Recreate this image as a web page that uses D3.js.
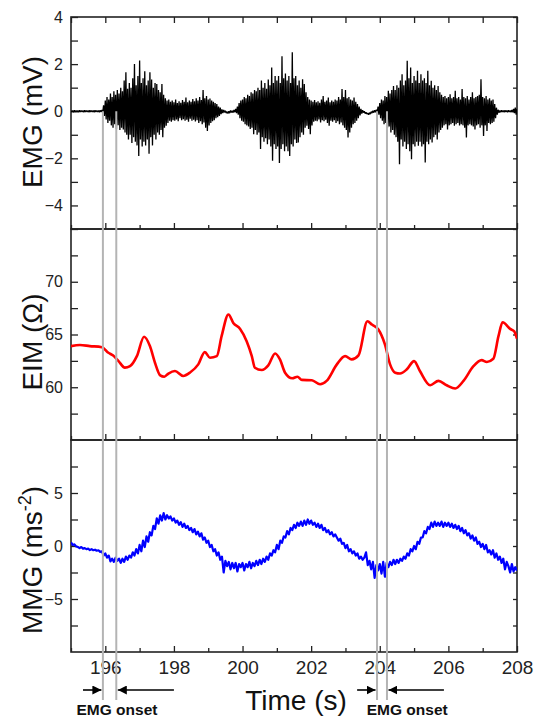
<!DOCTYPE html>
<html>
<head>
<meta charset="utf-8">
<script src="https://cdn.jsdelivr.net/npm/d3@7"></script>
<style>
  body { margin: 0; background: #fff; }
  svg { display: block; font-family: "Liberation Sans", Arial, sans-serif; }
</style>
</head>
<body>
<div id="wrapper"></div>
<script>
// EMG envelope, one high/low pair every 0.05 s from 195 s to 208 s (mV)
const emgStart = 195;
const emgStep = 0.05;
const emgHigh = [
  0.03,0.03,0.04,0.03,0.03,0.04,0.03,0.03,0.04,0.03,0.03,0.04,0.03,0.03,0.04,0.03,0.03,0.04,0.05,0.25,
  0.45,0.6,0.5,0.75,0.6,0.85,0.7,0.9,0.75,1.0,0.85,1.3,1.65,0.95,1.2,1.0,1.4,2.0,1.1,1.5,
  2.15,1.2,1.4,1.7,1.1,1.3,1.65,1.35,1.0,1.2,1.15,0.9,0.8,1.15,0.7,0.55,0.45,0.5,0.4,0.45,
  0.38,0.5,0.35,0.42,0.36,0.48,0.4,0.58,0.38,0.45,0.4,0.52,0.42,0.55,0.45,0.6,0.48,0.9,0.55,0.65,
  0.5,0.54,0.45,0.4,0.35,0.3,0.2,0.15,0.08,0.05,0.02,-0.02,0.0,0.03,0.02,0.05,0.1,0.2,0.35,0.45,
  0.5,0.6,0.55,0.7,0.65,0.8,0.75,0.9,0.85,1.0,0.9,1.3,1.0,1.2,0.95,1.35,1.1,1.86,1.2,1.5,
  1.3,1.5,1.2,2.33,1.4,1.6,1.3,1.5,1.2,2.5,1.4,1.5,1.1,1.3,1.0,1.36,1.15,0.8,0.6,0.5,
  0.45,0.4,0.48,0.38,0.42,0.36,0.5,0.65,0.4,0.45,0.58,0.38,0.45,0.4,0.5,0.45,0.6,0.5,0.94,0.6,
  0.9,0.55,0.6,0.5,0.45,0.58,0.4,0.3,0.2,0.1,0.04,0.0,-0.05,-0.08,-0.06,-0.02,0.02,0.04,0.06,0.2,
  0.35,0.5,0.45,0.65,0.6,0.87,0.75,0.9,1.07,0.9,1.1,1.0,1.3,1.57,1.1,1.3,2.14,1.4,1.86,1.2,
  1.5,1.3,1.72,1.2,1.57,1.3,1.4,1.2,1.72,1.1,1.29,1.0,1.1,0.9,1.07,0.8,0.7,0.6,0.65,0.55,
  0.6,0.72,0.55,0.6,0.87,0.55,0.6,0.5,0.94,0.6,0.55,0.65,0.5,0.6,0.8,0.55,0.6,0.65,0.7,1.36,
  0.6,0.55,0.65,0.5,0.55,0.45,0.5,0.3,0.15,0.06,0.03,0.04,0.03,0.04,0.03,0.04,0.03,0.05,0.1,0.15,
  0.1
];
const emgLow = [
  -0.03,-0.04,-0.03,-0.03,-0.04,-0.03,-0.03,-0.04,-0.03,-0.03,-0.04,-0.03,-0.03,-0.04,-0.03,-0.03,-0.04,-0.03,-0.05,-0.2,
  -0.35,-0.5,-0.4,-0.6,-0.7,-0.55,-0.75,-0.6,-0.8,-0.7,-0.78,-0.9,-1.0,-1.2,-1.0,-1.35,-1.1,-1.3,-1.45,-1.9,
  -1.2,-1.5,-1.3,-1.45,-1.2,-1.8,-1.1,-1.45,-1.0,-1.2,-0.9,-1.0,-0.8,-1.1,-0.7,-0.62,-0.5,-0.4,-0.45,-0.38,
  -0.4,-0.35,-0.42,-0.3,-0.38,-0.34,-0.4,-0.36,-0.45,-0.32,-0.4,-0.36,-0.44,-0.38,-0.5,-0.42,-0.55,-0.48,-0.7,-0.84,
  -0.6,-0.5,-0.42,-0.38,-0.3,-0.25,-0.2,-0.12,-0.08,-0.05,-0.08,-0.1,-0.08,-0.05,-0.06,-0.04,-0.08,-0.15,-0.3,-0.4,
  -0.45,-0.55,-0.6,-0.65,-0.75,-0.7,-0.98,-0.8,-1.0,-0.9,-1.6,-1.1,-1.3,-1.15,-1.4,-1.2,-1.5,-2.1,-1.4,-1.6,
  -1.5,-2.2,-1.6,-1.4,-1.7,-1.5,-1.7,-1.9,-1.4,-1.5,-1.2,-1.35,-1.33,-1.1,-0.9,-1.0,-0.7,-0.62,-0.75,-0.98,
  -0.6,-0.45,-0.4,-0.42,-0.35,-0.48,-0.38,-0.42,-0.36,-0.5,-0.62,-0.4,-0.45,-0.38,-0.5,-0.42,-0.55,-0.48,-0.6,-0.7,
  -0.8,-1.12,-0.9,-0.7,-0.55,-0.5,-0.4,-0.3,-0.18,-0.1,-0.06,-0.1,-0.12,-0.15,-0.12,-0.08,-0.06,-0.04,-0.05,-0.15,
  -0.3,-0.4,-0.55,-0.5,-0.7,-0.65,-0.9,-0.8,-1.0,-1.1,-1.3,-2.25,-1.2,-1.5,-1.3,-1.6,-1.4,-1.7,-2.04,-1.4,
  -1.5,-1.3,-1.47,-1.3,-1.5,-1.4,-2.18,-1.3,-1.4,-1.2,-1.33,-1.1,-1.0,-1.2,-0.9,-0.8,-0.7,-0.6,-0.55,-0.77,
  -0.6,-0.55,-0.5,-0.62,-0.55,-0.5,-0.6,-0.55,-0.6,-0.7,-1.12,-0.6,-0.55,-0.6,-0.65,-0.77,-0.6,-0.55,-0.7,-0.6,
  -1.05,-0.6,-0.84,-0.5,-0.55,-0.5,-0.45,-0.3,-0.15,-0.06,-0.04,-0.03,-0.04,-0.03,-0.04,-0.03,-0.04,-0.04,-0.08,-0.15,
  -0.1
];

// EIM (ohm), read at irregular times
const eimTime = [195.0,195.26,195.55,195.9,196.09,196.23,196.38,196.57,196.72,196.92,197.13,197.3,197.45,197.6,197.72,197.84,198.03,198.27,198.47,198.71,198.9,199.05,199.25,199.39,199.59,199.73,199.93,200.12,200.27,200.36,200.56,200.75,200.95,201.09,201.24,201.45,201.6,201.73,202.02,202.26,202.45,202.75,202.99,203.18,203.38,203.64,203.77,203.96,204.15,204.3,204.45,204.59,204.79,205.0,205.17,205.47,205.71,205.95,206.2,206.44,206.73,206.97,207.12,207.31,207.46,207.58,207.8,207.92,208.0];
const eimValue = [63.9,64.0,63.9,63.8,63.27,63.0,62.5,61.86,62.0,62.95,64.78,63.9,62.3,61.13,61.0,61.3,61.54,61.07,61.4,62.17,63.33,62.8,62.95,64.84,66.9,66.1,65.53,64.37,62.95,61.85,61.63,62.07,63.2,62.64,61.38,60.85,61.0,60.7,60.66,60.28,60.6,62.17,62.95,62.64,63.02,66.26,65.94,65.47,64.06,62.17,61.38,61.3,61.7,62.48,61.54,60.19,60.6,60.19,59.88,60.6,62.0,62.57,62.4,62.7,64.84,66.16,65.53,65.3,64.6];

// MMG (m/s^2), one value every 0.05 s from 195 s to 208 s
const mmgStart = 195;
const mmgStep = 0.05;
const mmgValue = [
  0.35,0.1,0.15,-0.05,-0.1, -0.2,-0.1,-0.25,-0.2,-0.3, -0.25,-0.38,-0.3,-0.4,-0.35, -0.45,-0.4,-0.55,-0.5,-0.9,
  -0.7,-1.1,-0.9,-1.45,-1.2, -1.5,-1.1,-1.4,-1.2,-1.6, -1.2,-1.5,-1.0,-1.3,-0.9, -1.1,-0.6,-0.9,-0.3,-0.7,
  0.1,-0.5,0.5,-0.1,0.9, 0.4,1.3,1.0,1.9,1.6, 2.6,2.1,2.9,2.4,3.1, 2.5,2.9,2.6,2.8,2.4,
  2.6,2.2,2.4,2.0,2.25, 1.8,2.1,1.7,1.9,1.5, 1.7,1.3,1.6,1.1,1.35, 0.9,1.2,0.6,0.8,0.3,
  0.5,-0.1,0.1,-0.5,-0.3, -0.9,-0.6,-1.3,-1.0,-2.5, -1.4,-1.9,-1.5,-2.2,-1.6, -2.1,-1.6,-2.4,-1.7,-2.0,
  -1.6,-2.3,-1.7,-2.0,-1.5, -2.1,-1.6,-1.9,-1.4,-1.8, -1.3,-1.7,-1.2,-1.5,-1.0, -1.3,-0.7,-0.9,-0.4,-0.6,
  0.1,-0.3,0.5,0.3,0.9, 0.8,1.4,1.1,1.7,1.5, 2.0,1.7,2.2,1.9,2.3, 1.9,2.4,2.0,2.5,2.1,
  2.4,2.0,2.2,1.8,2.1, 1.7,2.0,1.5,1.7,1.3, 1.5,1.1,1.3,0.9,1.1, 0.8,0.5,0.7,0.2,0.3,
  -0.2,0.1,-0.5,-0.3,-0.7, -0.5,-0.9,-0.7,-1.2,-1.0, -1.3,-1.1,-0.6,-1.8,-1.4, -2.2,-1.5,-3.0,-1.8,-2.3,
  -1.7,-2.6,-1.5,-2.9,-1.6, -2.0,-1.5,-1.8,-1.3,-1.7, -1.3,-1.6,-1.2,-1.4,-1.0, -1.2,-0.7,-0.9,-0.3,-0.5,
  0.0,-0.3,0.4,0.2,0.8, 0.8,1.4,1.2,1.8,1.6, 2.2,1.8,2.3,1.9,2.2, 1.9,2.3,1.8,2.2,1.9,
  2.2,1.8,2.1,1.7,2.0, 1.6,1.9,1.4,1.7,1.2, 1.5,1.0,1.2,0.7,1.0, 0.5,0.8,0.2,0.4,-0.1,
  0.2,-0.3,0.1,-0.6,-0.4, -0.8,-0.4,-1.1,-0.7,-1.3, -1.0,-1.6,-1.2,-2.2,-1.5, -1.9,-2.5,-1.7,-2.4,-2.0,
  -2.3
];

// EMG onset markers (s) and annotation positions
const onsetPairs = [[195.93, 196.32], [203.92, 204.21]];
const arrowTails = [[195.35, 198.0], [203.34, 205.87]];
const onsetLabelTime = [196.34, 204.8];

const xMajorTicks = [196, 198, 200, 202, 204, 206, 208];
const xMinorTicks = [195, 197, 199, 201, 203, 205, 207];

function drawChart() {
  const dimensions = {
    width: 534,
    height: 720,
    left: 71,
    right: 517,
  };

  const svg = d3.select('#wrapper')
    .append('svg')
    .attr('width', dimensions.width)
    .attr('height', dimensions.height);

  const xScale = d3.scaleLinear()
    .domain([195, 208])
    .range([dimensions.left, dimensions.right]);

  const panels = [
    { top: 17, bottom: 229, domain: [-5, 4], major: [-4, -2, 0, 2, 4], minor: [-5, -3, -1, 1, 3] },
    { top: 229, bottom: 440, domain: [55, 75], major: [60, 65, 70], minor: [57.5, 62.5, 67.5, 72.5] },
    { top: 440, bottom: 652, domain: [-10, 10], major: [-5, 0, 5], minor: [-7.5, -2.5, 2.5, 7.5] },
  ];
  panels.forEach(p => {
    p.yScale = d3.scaleLinear().domain(p.domain).range([p.bottom, p.top]);
  });

  // clip per panel
  const defs = svg.append('defs');
  panels.forEach((p, i) => {
    defs.append('clipPath').attr('id', `clip${i}`)
      .append('rect')
      .attr('x', dimensions.left).attr('y', p.top)
      .attr('width', dimensions.right - dimensions.left).attr('height', p.bottom - p.top);
  });

  // axes
  const axisColor = '#222';
  panels.forEach((p, i) => {
    const g = svg.append('g');
    const addAxis = (gen, transform) => {
      const a = g.append('g').attr('transform', transform).call(gen);
      a.select('.domain').remove();
      a.selectAll('line').attr('stroke', axisColor).attr('stroke-width', 1.3);
      a.selectAll('text').attr('fill', axisColor);
      return a;
    };
    // left
    const leftMajor = addAxis(d3.axisLeft(p.yScale).tickValues(p.major).tickSize(-7).tickPadding(8), `translate(${dimensions.left},0)`);
    leftMajor.selectAll('text').style('font-size', '16px');
    addAxis(d3.axisLeft(p.yScale).tickValues(p.minor).tickSize(-7).tickFormat(''), `translate(${dimensions.left},0)`);
    // right
    addAxis(d3.axisRight(p.yScale).tickValues(p.major.concat(p.minor)).tickSize(-4).tickFormat(''), `translate(${dimensions.right},0)`);
    // bottom
    const bottomMajor = addAxis(d3.axisBottom(xScale).tickValues(xMajorTicks).tickSize(-6).tickPadding(9)
      .tickFormat(i === 2 ? d3.format('d') : ''), `translate(0,${p.bottom})`);
    bottomMajor.selectAll('text').style('font-size', '19px');
    addAxis(d3.axisBottom(xScale).tickValues(xMinorTicks).tickSize(-4).tickFormat(''), `translate(0,${p.bottom})`);
    if (i === 0) {
      addAxis(d3.axisTop(xScale).tickValues(xMajorTicks.concat(xMinorTicks)).tickSize(-6).tickFormat(''), `translate(0,${p.top})`);
    }
    g.append('rect')
      .attr('x', dimensions.left).attr('y', p.top)
      .attr('width', dimensions.right - dimensions.left).attr('height', p.bottom - p.top)
      .attr('fill', 'none').attr('stroke', axisColor).attr('stroke-width', 1.6);
  });

  // EMG trace: alternate between envelope high and low values
  const emgPoints = [];
  emgHigh.forEach((hi, i) => {
    const t = emgStart + i * emgStep;
    emgPoints.push([t, hi]);
    emgPoints.push([t + emgStep / 2, emgLow[i]]);
  });
  const emgLine = d3.line()
    .x(d => xScale(d[0]))
    .y(d => panels[0].yScale(d[1]));
  svg.append('path')
    .attr('clip-path', 'url(#clip0)')
    .attr('d', emgLine(emgPoints))
    .attr('fill', 'none')
    .attr('stroke', '#000')
    .attr('stroke-width', 1.3)
    .attr('stroke-linejoin', 'bevel');

  // EIM trace
  const eimLine = d3.line()
    .x((d, i) => xScale(eimTime[i]))
    .y(d => panels[1].yScale(d))
    .curve(d3.curveMonotoneX);
  svg.append('path')
    .attr('clip-path', 'url(#clip1)')
    .attr('d', eimLine(eimValue))
    .attr('fill', 'none')
    .attr('stroke', '#ff0000')
    .attr('stroke-width', 2.6);

  // MMG trace
  const mmgLine = d3.line()
    .x((d, i) => xScale(mmgStart + i * mmgStep))
    .y(d => panels[2].yScale(d));
  svg.append('path')
    .attr('clip-path', 'url(#clip2)')
    .attr('d', mmgLine(mmgValue))
    .attr('fill', 'none')
    .attr('stroke', '#0000ff')
    .attr('stroke-width', 2.2)
    .attr('stroke-linejoin', 'round');

  // onset lines
  const onsetTop = panels[0].yScale(0);
  onsetPairs.flat().forEach(t => {
    svg.append('line')
      .attr('x1', xScale(t)).attr('x2', xScale(t))
      .attr('y1', onsetTop).attr('y2', 700)
      .attr('stroke', '#b4b4b4')
      .attr('stroke-width', 2);
  });

  // arrows
  defs.append('marker')
    .attr('id', 'arrowhead')
    .attr('viewBox', '0 0 10 10')
    .attr('refX', 10).attr('refY', 5)
    .attr('markerWidth', 9).attr('markerHeight', 9)
    .attr('markerUnits', 'userSpaceOnUse')
    .attr('orient', 'auto')
    .append('path').attr('d', 'M0,0 L10,5 L0,10 Z').attr('fill', '#000');
  const arrowY = 690;
  onsetPairs.forEach((pair, i) => {
    const [tailL, tailR] = arrowTails[i];
    svg.append('line')
      .attr('x1', xScale(tailL)).attr('x2', xScale(pair[0]) - 1.5)
      .attr('y1', arrowY).attr('y2', arrowY)
      .attr('stroke', '#000').attr('stroke-width', 1.6)
      .attr('marker-end', 'url(#arrowhead)');
    svg.append('line')
      .attr('x1', xScale(tailR)).attr('x2', xScale(pair[1]) + 1.5)
      .attr('y1', arrowY).attr('y2', arrowY)
      .attr('stroke', '#000').attr('stroke-width', 1.6)
      .attr('marker-end', 'url(#arrowhead)');
    svg.append('text')
      .attr('x', xScale(onsetLabelTime[i]))
      .attr('y', 715)
      .attr('text-anchor', 'middle')
      .style('font-size', '15.5px')
      .style('font-weight', 'bold')
      .attr('fill', '#111')
      .text('EMG onset');
  });

  // axis titles
  const titleSize = '28px';
  const yTitle = (cy, build) => {
    const t = svg.append('text')
      .attr('transform', `translate(42,${cy}) rotate(-90)`)
      .attr('text-anchor', 'middle')
      .style('font-size', titleSize)
      .attr('fill', '#111');
    build(t);
  };
  yTitle(122, t => t.text('EMG (mV)'));
  yTitle(342, t => t.text('EIM (Ω)'));
  yTitle(560, t => {
    t.append('tspan').text('MMG (ms');
    t.append('tspan').attr('dy', -11).style('font-size', '18px').text('-2');
    t.append('tspan').attr('dy', 11).text(')');
  });

  svg.append('text')
    .attr('x', 296)
    .attr('y', 710)
    .attr('text-anchor', 'middle')
    .style('font-size', titleSize)
    .attr('fill', '#111')
    .text('Time (s)');
}
drawChart();
</script>
</body>
</html>
